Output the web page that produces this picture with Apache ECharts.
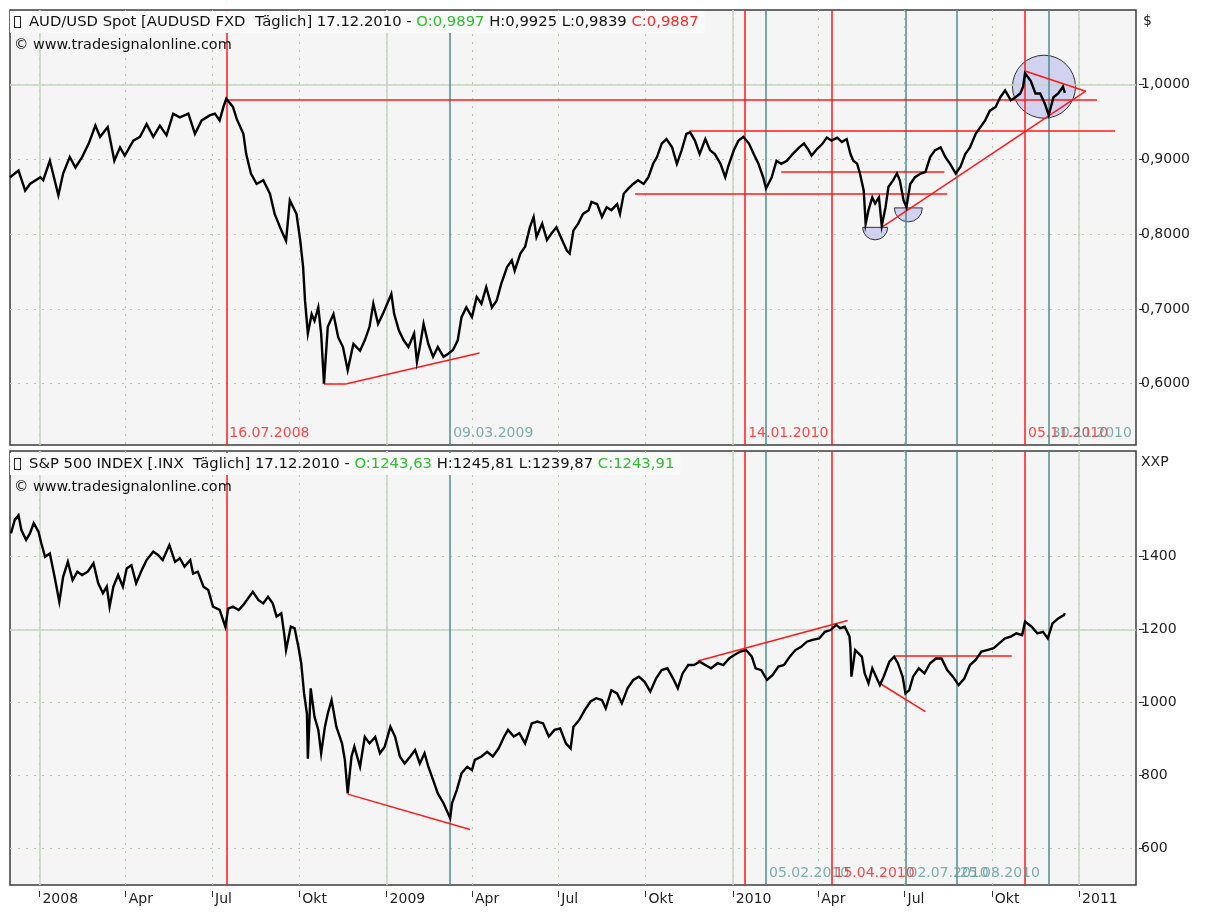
<!DOCTYPE html>
<html><head><meta charset="utf-8">
<script src="https://cdn.jsdelivr.net/npm/echarts@6/dist/echarts.min.js"></script>
<style>html,body{margin:0;padding:0;background:#fff;}#c{width:1210px;height:912px;}</style>
</head><body><div id="c"></div>
<script>
// ---------------- DATA ----------------
const audDates = ['2007-12-01','2007-12-10','2007-12-17','2007-12-22','2008-01-02','2008-01-05','2008-01-12','2008-01-21','2008-01-26','2008-02-02','2008-02-08','2008-02-15','2008-02-22','2008-02-29','2008-03-05','2008-03-13','2008-03-20','2008-03-26','2008-03-31','2008-04-09','2008-04-16','2008-04-23','2008-04-30','2008-05-07','2008-05-14','2008-05-21','2008-05-28','2008-06-06','2008-06-13','2008-06-20','2008-06-29','2008-07-04','2008-07-09','2008-07-13','2008-07-16','2008-07-23','2008-07-27','2008-08-03','2008-08-06','2008-08-11','2008-08-17','2008-08-24','2008-08-31','2008-09-05','2008-09-12','2008-09-17','2008-09-21','2008-09-28','2008-10-02','2008-10-05','2008-10-07','2008-10-10','2008-10-14','2008-10-17','2008-10-21','2008-10-24','2008-10-27','2008-10-31','2008-11-06','2008-11-11','2008-11-16','2008-11-21','2008-11-27','2008-12-04','2008-12-09','2008-12-14','2008-12-18','2008-12-23','2008-12-28','2009-01-06','2009-01-09','2009-01-14','2009-01-19','2009-01-24','2009-01-30','2009-02-02','2009-02-05','2009-02-09','2009-02-14','2009-02-19','2009-02-24','2009-03-02','2009-03-07','2009-03-12','2009-03-17','2009-03-21','2009-03-26','2009-04-01','2009-04-06','2009-04-11','2009-04-16','2009-04-22','2009-04-27','2009-05-02','2009-05-08','2009-05-13','2009-05-16','2009-05-22','2009-05-27','2009-06-01','2009-06-05','2009-06-08','2009-06-14','2009-06-19','2009-06-24','2009-06-29','2009-07-05','2009-07-10','2009-07-13','2009-07-17','2009-07-22','2009-07-27','2009-08-02','2009-08-05','2009-08-11','2009-08-16','2009-08-21','2009-08-26','2009-09-01','2009-09-04','2009-09-08','2009-09-13','2009-09-18','2009-09-23','2009-09-29','2009-10-04','2009-10-09','2009-10-13','2009-10-18','2009-10-23','2009-10-29','2009-11-03','2009-11-08','2009-11-13','2009-11-17','2009-11-22','2009-11-27','2009-12-03','2009-12-08','2009-12-13','2009-12-19','2009-12-24','2009-12-27','2010-01-02','2010-01-07','2010-01-12','2010-01-18','2010-01-23','2010-01-28','2010-02-02','2010-02-05','2010-02-11','2010-02-16','2010-02-21','2010-02-27','2010-03-05','2010-03-12','2010-03-17','2010-03-22','2010-03-25','2010-03-31','2010-04-05','2010-04-10','2010-04-15','2010-04-21','2010-04-26','2010-05-01','2010-05-05','2010-05-08','2010-05-12','2010-05-15','2010-05-19','2010-05-21','2010-05-24','2010-05-28','2010-05-31','2010-06-04','2010-06-07','2010-06-11','2010-06-14','2010-06-19','2010-06-23','2010-06-26','2010-06-30','2010-07-03','2010-07-07','2010-07-12','2010-07-18','2010-07-23','2010-07-28','2010-08-02','2010-08-08','2010-08-13','2010-08-18','2010-08-24','2010-08-29','2010-09-03','2010-09-08','2010-09-14','2010-09-19','2010-09-24','2010-09-29','2010-10-05','2010-10-10','2010-10-15','2010-10-21','2010-10-26','2010-10-31','2010-11-03','2010-11-05','2010-11-11','2010-11-16','2010-11-21','2010-11-26','2010-11-30','2010-12-05','2010-12-10','2010-12-15','2010-12-17'];
const audValues = [0.876,0.885,0.858,0.867,0.876,0.872,0.898,0.852,0.881,0.903,0.889,0.903,0.921,0.945,0.930,0.943,0.898,0.916,0.905,0.925,0.930,0.947,0.930,0.945,0.932,0.961,0.956,0.961,0.934,0.952,0.959,0.961,0.952,0.970,0.981,0.970,0.954,0.934,0.907,0.881,0.867,0.872,0.854,0.827,0.805,0.791,0.845,0.827,0.791,0.756,0.711,0.667,0.693,0.684,0.702,0.667,0.600,0.676,0.693,0.662,0.649,0.618,0.653,0.644,0.658,0.676,0.707,0.680,0.693,0.720,0.693,0.671,0.658,0.649,0.667,0.629,0.649,0.680,0.653,0.636,0.649,0.636,0.640,0.645,0.658,0.689,0.702,0.689,0.716,0.707,0.729,0.702,0.711,0.734,0.756,0.765,0.751,0.774,0.783,0.809,0.823,0.796,0.814,0.792,0.801,0.809,0.792,0.778,0.774,0.805,0.814,0.827,0.832,0.843,0.840,0.823,0.836,0.832,0.840,0.827,0.854,0.861,0.867,0.872,0.867,0.876,0.894,0.903,0.921,0.927,0.916,0.894,0.912,0.934,0.936,0.925,0.907,0.927,0.912,0.907,0.894,0.876,0.890,0.912,0.925,0.930,0.921,0.907,0.894,0.876,0.861,0.876,0.898,0.894,0.898,0.907,0.916,0.921,0.912,0.905,0.914,0.920,0.929,0.925,0.929,0.923,0.927,0.907,0.898,0.894,0.881,0.858,0.814,0.832,0.849,0.841,0.849,0.811,0.836,0.863,0.872,0.881,0.872,0.845,0.836,0.867,0.876,0.881,0.883,0.903,0.912,0.916,0.903,0.894,0.881,0.890,0.907,0.916,0.934,0.943,0.952,0.965,0.970,0.983,0.992,0.979,0.983,0.988,0.997,1.015,1.005,0.988,0.988,0.974,0.959,0.983,0.988,0.997,0.9887];

const spxDates = ['2007-12-02','2007-12-06','2007-12-10','2007-12-13','2007-12-18','2007-12-22','2007-12-26','2007-12-31','2008-01-03','2008-01-07','2008-01-12','2008-01-17','2008-01-22','2008-01-26','2008-01-31','2008-02-05','2008-02-10','2008-02-15','2008-02-21','2008-02-27','2008-03-03','2008-03-08','2008-03-12','2008-03-15','2008-03-19','2008-03-24','2008-03-29','2008-04-02','2008-04-07','2008-04-12','2008-04-18','2008-04-23','2008-04-30','2008-05-05','2008-05-10','2008-05-17','2008-05-23','2008-05-28','2008-06-02','2008-06-08','2008-06-11','2008-06-16','2008-06-22','2008-06-27','2008-07-02','2008-07-09','2008-07-15','2008-07-18','2008-07-23','2008-07-29','2008-08-03','2008-08-08','2008-08-13','2008-08-19','2008-08-24','2008-08-29','2008-09-03','2008-09-07','2008-09-12','2008-09-15','2008-09-17','2008-09-22','2008-09-26','2008-09-30','2008-10-03','2008-10-06','2008-10-09','2008-10-10','2008-10-13','2008-10-17','2008-10-21','2008-10-24','2008-10-28','2008-10-31','2008-11-04','2008-11-09','2008-11-15','2008-11-18','2008-11-21','2008-11-25','2008-11-28','2008-12-04','2008-12-09','2008-12-14','2008-12-20','2008-12-25','2008-12-30','2009-01-05','2009-01-10','2009-01-15','2009-01-20','2009-01-26','2009-01-31','2009-02-05','2009-02-10','2009-02-14','2009-02-19','2009-02-24','2009-03-02','2009-03-09','2009-03-11','2009-03-16','2009-03-21','2009-03-27','2009-04-01','2009-04-04','2009-04-11','2009-04-17','2009-04-23','2009-04-29','2009-05-05','2009-05-09','2009-05-15','2009-05-21','2009-05-27','2009-06-03','2009-06-09','2009-06-15','2009-06-21','2009-06-27','2009-07-03','2009-07-09','2009-07-14','2009-07-17','2009-07-23','2009-07-29','2009-08-04','2009-08-10','2009-08-16','2009-08-20','2009-08-26','2009-09-01','2009-09-06','2009-09-12','2009-09-18','2009-09-24','2009-09-30','2009-10-06','2009-10-12','2009-10-18','2009-10-24','2009-10-30','2009-11-04','2009-11-09','2009-11-15','2009-11-21','2009-11-27','2009-12-03','2009-12-09','2009-12-16','2009-12-22','2009-12-28','2010-01-03','2010-01-09','2010-01-15','2010-01-21','2010-01-25','2010-01-31','2010-02-06','2010-02-12','2010-02-18','2010-02-24','2010-03-02','2010-03-08','2010-03-14','2010-03-20','2010-03-26','2010-04-02','2010-04-08','2010-04-14','2010-04-20','2010-04-24','2010-04-29','2010-05-04','2010-05-05','2010-05-06','2010-05-10','2010-05-17','2010-05-20','2010-05-24','2010-05-28','2010-06-01','2010-06-05','2010-06-09','2010-06-15','2010-06-20','2010-06-24','2010-06-29','2010-07-02','2010-07-06','2010-07-10','2010-07-16','2010-07-22','2010-07-28','2010-08-03','2010-08-09','2010-08-15','2010-08-21','2010-08-27','2010-09-02','2010-09-08','2010-09-14','2010-09-20','2010-09-26','2010-10-03','2010-10-09','2010-10-15','2010-10-21','2010-10-27','2010-11-02','2010-11-05','2010-11-12','2010-11-18','2010-11-24','2010-11-29','2010-12-04','2010-12-10','2010-12-16','2010-12-17'];
const spxValues = [1463,1500,1513,1472,1445,1463,1491,1468,1436,1399,1408,1344,1275,1344,1385,1335,1358,1349,1358,1381,1326,1299,1317,1262,1317,1349,1317,1367,1376,1326,1363,1390,1413,1404,1390,1431,1385,1395,1372,1390,1353,1358,1317,1308,1262,1253,1207,1257,1262,1253,1267,1285,1303,1280,1271,1289,1271,1235,1244,1189,1143,1207,1203,1152,1107,1024,969,845,1038,960,924,860,933,969,1006,933,887,842,750,851,878,823,905,887,905,860,878,933,905,851,832,851,869,832,860,823,787,750,723,682,723,759,805,823,814,842,851,864,851,873,906,924,906,915,887,942,947,942,906,924,928,887,873,933,951,979,1002,1011,1006,983,1033,1024,997,1038,1061,1070,1056,1029,1065,1088,1093,1065,1038,1079,1102,1102,1111,1102,1093,1107,1102,1120,1130,1139,1143,1125,1093,1088,1061,1075,1098,1102,1125,1143,1152,1166,1171,1175,1193,1198,1212,1203,1207,1180,1148,1070,1143,1125,1079,1052,1093,1070,1047,1070,1111,1125,1107,1070,1024,1033,1070,1093,1079,1107,1120,1120,1088,1070,1047,1065,1102,1116,1139,1143,1148,1162,1175,1180,1189,1184,1221,1207,1189,1193,1175,1216,1230,1239,1244];

// axis ticks
const xTickDates = ['2008-01-01','2008-04-01','2008-07-01','2008-10-01','2009-01-01','2009-04-01','2009-07-01','2009-10-01','2010-01-01','2010-04-01','2010-07-01','2010-10-01','2011-01-01'];
const monthLabels = ['Jan','Feb','Mär','Apr','Mai','Jun','Jul','Aug','Sep','Okt','Nov','Dez'];
const audTicks = [0.6, 0.7, 0.8, 0.9, 1.0];
const spxTicks = [600, 800, 1000, 1200, 1400];
const audMajor = [1.0];
const spxMajor = [1200];

// vertical marker lines
const markerDates = ['2008-07-16','2009-03-09','2010-01-14','2010-02-05','2010-04-15','2010-07-02','2010-08-25','2010-11-05','2010-11-30'];
const markerKinds = ['red','teal','red','teal','red','teal','teal','red','teal'];
const topLabelled = [0, 1, 2, 7, 8];
const bottomLabelled = [3, 4, 5, 6];

// AUD annotations
const audHLines = [
  [['2008-07-16', 0.9795], ['2011-01-20', 0.9795]],
  [['2009-11-16', 0.9376], ['2011-02-08', 0.9376]],
  [['2010-02-21', 0.8828], ['2010-08-12', 0.8828]],
  [['2009-09-20', 0.854], ['2010-08-15', 0.854]]
];
const audTrendLines = [
  [['2008-10-27', 0.600], ['2008-11-20', 0.600]],
  [['2008-11-20', 0.600], ['2009-04-09', 0.641]],
  [['2010-06-08', 0.810], ['2011-01-08', 0.991]],
  [['2010-11-05', 1.018], ['2011-01-08', 0.991]]
];
const audBigCircle = [['2010-11-25', 0.997]];
const audHalfCircles = [['2010-05-31', 0.809], ['2010-07-05', 0.835]];

// S&P annotations
const spxLines = [
  [['2008-11-21', 748], ['2009-03-30', 651]],
  [['2009-11-25', 1113], ['2010-05-02', 1224]],
  [['2010-06-21', 1128], ['2010-10-22', 1128]],
  [['2010-06-06', 1050], ['2010-07-23', 974]]
];

// header texts
const audHead = ['AUD/USD Spot [AUDUSD FXD  Täglich] 17.12.2010 - ', 'O:0,9897', 'H:0,9925', 'L:0,9839', 'C:0,9887'];
const spxHead = ['S&P 500 INDEX [.INX  Täglich] 17.12.2010 - ', 'O:1243,63', 'H:1245,81', 'L:1239,87', 'C:1243,91'];
const copyright = '© www.tradesignalonline.com';

// ---------------- CHART ----------------
const T = s => { const p = s.split('-').map(Number); return new Date(p[0], p[1] - 1, p[2]).getTime(); };
const fmtDate = s => { const p = s.split('-'); return p[2] + '.' + p[1] + '.' + p[0]; };
const FONT = 'DejaVu Sans';
const FS = 14, HFS = 14.8, CFS = 14.4;
const RED = '#ff1a1a', TEAL = '#4d8c8c', GRIDC = '#b3c9ae', YEARC = '#c3d5bf';
const xMin = T('2007-12-01'), xMax = T('2011-03-02');
const audRange = [0.518, 1.0996], spxRange = [498.7, 1689];
const xTickTs = xTickDates.map(T);
const yearTs = xTickDates.filter(d => d.slice(5, 7) === '01').map(T);

function xAxisCfg(g, show) {
  return {
    type: 'value', gridIndex: g, min: xMin, max: xMax, offset: show ? 6 : 0,
    axisLine: { show: false },
    axisTick: { show: show, length: 6, customValues: xTickTs, lineStyle: { color: '#333', width: 1 } },
    axisLabel: {
      show: show, customValues: xTickTs, align: 'left', margin: 1, padding: [0, 0, 0, 3],
      color: '#222', fontFamily: FONT, fontSize: FS, hideOverlap: false,
      formatter: v => { const d = new Date(v); return d.getMonth() === 0 ? String(d.getFullYear()) : monthLabels[d.getMonth()]; }
    },
    splitLine: { show: true, lineStyle: { color: GRIDC, type: [2, 6], width: 1 } }
  };
}
function yAxisCfg(g, range, ticks, fmt) {
  return {
    type: 'value', gridIndex: g, position: 'right', min: range[0], max: range[1], offset: 3,
    axisLine: { show: false },
    axisTick: { show: true, length: 5, customValues: ticks, lineStyle: { color: '#333' } },
    axisLabel: { customValues: ticks, formatter: fmt, margin: 2, color: '#222', fontFamily: FONT, fontSize: FS },
    splitLine: { show: true, lineStyle: { color: GRIDC, type: [2, 6], width: 1 } }
  };
}
function gridLinesSeries(g, major) {
  return {
    type: 'line', xAxisIndex: g, yAxisIndex: g, data: [], z: 1, silent: true,
    markLine: {
      symbol: 'none', silent: true, animation: false, label: { show: false },
      lineStyle: { color: YEARC, width: 1.5, type: 'solid' },
      data: yearTs.map(t => ({ xAxis: t })).concat(major.map(v => ({ yAxis: v })))
    }
  };
}
function markerSeries(g) {
  return {
    type: 'line', xAxisIndex: g, yAxisIndex: g, data: [], z: 3, silent: true,
    markLine: {
      symbol: 'none', silent: true, animation: false, label: { show: false },
      data: markerDates.map((d, i) => ({ xAxis: T(d), lineStyle: { color: markerKinds[i] === 'red' ? RED : TEAL, width: 1.5, type: 'solid' } }))
    }
  };
}
function markerLabelSeries(g, idxs, yv) {
  return {
    type: 'scatter', xAxisIndex: g, yAxisIndex: g, symbolSize: 0, z: 7, silent: true, clip: false,
    data: idxs.map(i => ({ name: fmtDate(markerDates[i]), value: [T(markerDates[i]), yv],
      label: { color: markerKinds[i] === 'red' ? RED : '#5f9a9a' } })),
    label: { show: true, position: 'right', distance: 3, offset: [0, -12], formatter: p => p.name, fontFamily: FONT, fontSize: FS }
  };
}
function segSeries(g, segs) {
  return {
    type: 'line', xAxisIndex: g, yAxisIndex: g, data: [], z: 6, silent: true,
    markLine: {
      symbol: 'none', silent: true, animation: false, label: { show: false },
      lineStyle: { color: RED, width: 1.5, type: 'solid' },
      data: segs.map(s => [{ coord: [T(s[0][0]), s[0][1]] }, { coord: [T(s[1][0]), s[1][1]] }])
    }
  };
}
function priceSeries(g, dates, vals) {
  return {
    type: 'line', xAxisIndex: g, yAxisIndex: g, z: 5, showSymbol: false, silent: true,
    lineStyle: { color: '#000', width: 2.4, join: 'miter' },
    data: dates.map((d, i) => [T(d), vals[i]])
  };
}
const circleFill = 'rgba(196,196,238,0.72)';
const headRich = {
  i: { width: 5, height: 10, borderColor: '#222', borderWidth: 1, backgroundColor: '#fff' },
  s: { width: 9 },
  n: { color: '#111', fontFamily: FONT, fontSize: HFS, fontWeight: 'normal' },
  g: { color: '#2cbf2c', fontFamily: FONT, fontSize: HFS, fontWeight: 'normal' },
  r: { color: '#ff2626', fontFamily: FONT, fontSize: HFS, fontWeight: 'normal' }
};
function headText(h, cStyle) {
  return '{i| }{s| }{n|' + h[0] + '}{g|' + h[1] + '}{n| ' + h[2] + ' ' + h[3] + ' }{' + cStyle + '|' + h[4] + '}';
}
const copyStyle = { color: '#111', fontFamily: FONT, fontSize: CFS, fontWeight: 'normal' };

const option = {
  animation: false,
  backgroundColor: '#ffffff',
  grid: [
    { left: 10, top: 10, width: 1126, height: 435, show: true, backgroundColor: '#f5f5f5', borderColor: '#3c3c3c', borderWidth: 1.5 },
    { left: 10, top: 451, width: 1126, height: 434, show: true, backgroundColor: '#f5f5f5', borderColor: '#3c3c3c', borderWidth: 1.5 }
  ],
  title: [
    { left: 11, top: 11, text: headText(audHead, 'r'), padding: [2, 6, 2, 4], backgroundColor: '#fafafa', textStyle: { fontWeight: 'normal', rich: headRich } },
    { left: 12, top: 38, text: copyright, padding: [0, 2], textStyle: copyStyle },
    { left: 11, top: 453, text: headText(spxHead, 'g'), padding: [2, 6, 2, 4], backgroundColor: '#fafafa', textStyle: { fontWeight: 'normal', rich: headRich } },
    { left: 12, top: 480, text: copyright, padding: [0, 2], textStyle: copyStyle }
  ],
  graphic: [
    { type: 'text', left: 1143, top: 14, style: { text: '$', fill: '#222', font: '14px "DejaVu Sans"' } },
    { type: 'text', left: 1141, top: 455, style: { text: 'XXP', fill: '#222', font: '14px "DejaVu Sans"' } }
  ],
  xAxis: [xAxisCfg(0, false), xAxisCfg(1, true)],
  yAxis: [
    yAxisCfg(0, audRange, audTicks, v => v.toFixed(4).replace('.', ',')),
    yAxisCfg(1, spxRange, spxTicks, v => String(v))
  ],
  series: [
    gridLinesSeries(0, audMajor),
    gridLinesSeries(1, spxMajor),
    {
      type: 'custom', xAxisIndex: 0, yAxisIndex: 0, z: 2, silent: true, clip: true,
      data: audBigCircle.map(p => [T(p[0]), p[1]]),
      renderItem: (params, api) => {
        const c = api.coord([api.value(0), api.value(1)]);
        return { type: 'circle', shape: { cx: c[0], cy: c[1], r: 31.5 }, style: { fill: circleFill, stroke: '#333', lineWidth: 1 } };
      }
    },
    {
      type: 'custom', xAxisIndex: 0, yAxisIndex: 0, z: 2, silent: true, clip: true,
      data: audHalfCircles.map(p => [T(p[0]), p[1]]),
      renderItem: (params, api) => {
        const c = api.coord([api.value(0), api.value(1)]);
        const r = params.dataIndex === 0 ? 12.5 : 14;
        return { type: 'sector', shape: { cx: c[0], cy: c[1], r0: 0, r: r, startAngle: 0, endAngle: Math.PI, clockwise: true }, style: { fill: circleFill, stroke: '#333', lineWidth: 1 } };
      }
    },
    markerSeries(0),
    markerSeries(1),
    priceSeries(0, audDates, audValues),
    priceSeries(1, spxDates, spxValues),
    segSeries(0, audHLines.concat(audTrendLines)),
    segSeries(1, spxLines),
    markerLabelSeries(0, topLabelled, audRange[0]),
    markerLabelSeries(1, bottomLabelled, spxRange[0])
  ]
};
const chart = echarts.init(document.getElementById('c'));
chart.setOption(option);
</script>
</body></html>
